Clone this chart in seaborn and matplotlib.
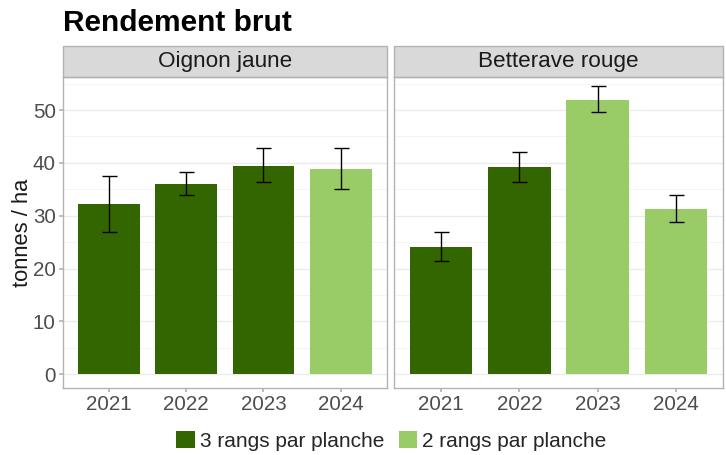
import matplotlib
matplotlib.use("Agg")
import matplotlib.pyplot as plt
import seaborn as sns
import pandas as pd
import numpy as np
from matplotlib.patches import Rectangle, Patch

sns.set_theme(style="white")
plt.rcParams['font.family'] = ['Liberation Sans', 'DejaVu Sans']

crops = ["Oignon jaune", "Betterave rouge"]
years = ["2021", "2022", "2023", "2024"]
oignon_vals = [32.2, 36.1, 39.5, 38.9]
oignon_lo = [27.0, 34.0, 36.3, 35.1]
oignon_hi = [37.5, 38.2, 42.9, 42.8]
bett_vals = [24.1, 39.2, 51.9, 31.3]
bett_lo = [21.4, 36.3, 49.6, 28.9]
bett_hi = [26.9, 42.1, 54.5, 33.9]
oignon_type = ["3 rangs par planche"] * 3 + ["2 rangs par planche"]
bett_type = ["3 rangs par planche"] * 2 + ["2 rangs par planche"] * 2
types = ["3 rangs par planche", "2 rangs par planche"]
colors = {"3 rangs par planche": "#336600", "2 rangs par planche": "#99CC66"}
yticks = [0, 10, 20, 30, 40, 50]

W, H = 726, 455
fig = plt.figure(figsize=(W / 100, H / 100), dpi=100)

panels = [
    (crops[0], oignon_vals, oignon_lo, oignon_hi, oignon_type, 62.7, 387),
    (crops[1], bett_vals, bett_lo, bett_hi, bett_type, 394, 723),
]
top, bottom = 77.3, 388.3
strip_top = 46
axes = []
for i, (name, vals, lo, hi, typ, x0, x1) in enumerate(panels):
    ax = fig.add_axes([x0 / W, 1 - bottom / H, (x1 - x0) / W, (bottom - top) / H])
    axes.append(ax)
    df = pd.DataFrame({"year": years, "val": vals, "type": typ})
    sns.barplot(data=df, x="year", y="val", hue="type", hue_order=types,
                palette=colors, dodge=False, width=0.8, ax=ax, legend=False,
                edgecolor="none", saturation=1, zorder=2)
    vals_a = np.array(vals)
    ax.errorbar(np.arange(len(years)), vals_a,
                yerr=[vals_a - np.array(lo), np.array(hi) - vals_a],
                fmt="none", ecolor="black", elinewidth=1.0, capsize=5.4,
                capthick=1.0, zorder=3)
    ax.set_xlim(-0.6, 3.6)
    ax.set_ylim(-2.65, 56.2)
    ax.set_yticks(yticks)
    ax.set_yticks([5, 15, 25, 35, 45, 55], minor=True)
    ax.grid(axis="y", which="major", color="#ebebeb", linewidth=1.0, zorder=0)
    ax.grid(axis="y", which="minor", color="#f3f3f3", linewidth=0.6, zorder=0)
    ax.set_axisbelow(True)
    ax.set_xlabel("")
    ax.set_ylabel("")
    for s in ax.spines.values():
        s.set_color("#b3b3b3")
        s.set_linewidth(1.0)
    ax.tick_params(axis="both", which="major", length=3, color="#b3b3b3",
                   labelsize=14.8, labelcolor="#4d4d4d", pad=2, bottom=True, left=(i == 0))
    ax.tick_params(axis="y", which="minor", length=0)
    if i == 1:
        ax.set_yticklabels([])
        ax.tick_params(axis="y", left=False)
    # strip
    sh = (top - strip_top) / (bottom - top)
    ax.add_patch(Rectangle((0, 1), 1, sh, transform=ax.transAxes, clip_on=False,
                           facecolor="#d9d9d9", edgecolor="#b3b3b3", linewidth=1.0))
    ax.text(0.5, 1 + sh / 2, name, transform=ax.transAxes, ha="center", va="center",
            fontsize=16.2, color="#1a1a1a")

axes[0].set_ylabel("tonnes / ha", fontsize=15.8, color="#1a1a1a", labelpad=0)

fig.text(63 / W, 1 - 23 / H, "Rendement brut", fontsize=21.5, fontweight="bold",
         ha="left", va="center", color="black")

handles = [Patch(facecolor=colors[t], edgecolor="none") for t in types]
fig.legend(handles, types, loc="center", bbox_to_anchor=(0.539, 1 - 441 / H), ncol=2,
           frameon=False, fontsize=15, handlelength=0.87, handleheight=0.87,
           handletextpad=0.25, columnspacing=0.7)

fig.savefig("out.png", dpi=100)
